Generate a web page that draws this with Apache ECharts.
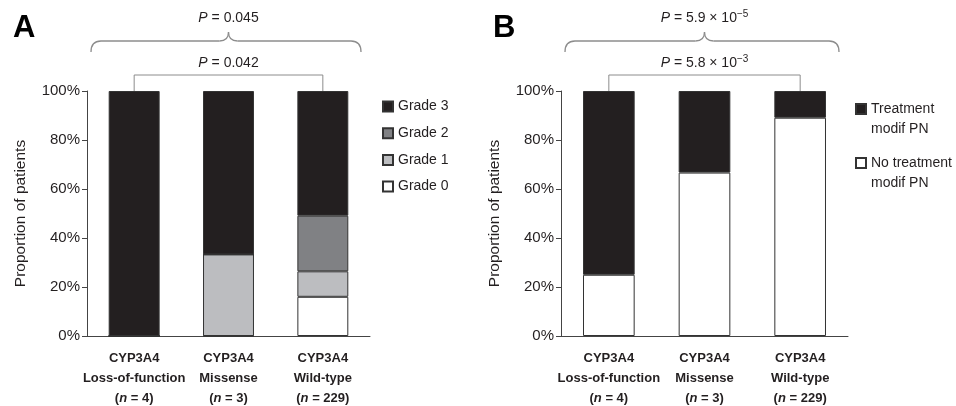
<!DOCTYPE html>
<html>
<head>
<meta charset="utf-8">
<script src="https://cdn.jsdelivr.net/npm/echarts@6/dist/echarts.min.js"></script>
<style>
  html, body { margin: 0; padding: 0; background: #fff; }
  #chart { width: 956px; height: 406px; }
</style>
</head>
<body>
<div id="chart"></div>
<script>
// categories
const groups = ["Loss-of-function", "Missense", "Wild-type"];
const groupN = [4, 3, 229];

// panel A: grade of peripheral neuropathy (%)
const grade0 = [0, 0, 16.0];
const grade1 = [0, 33.3, 10.4];
const grade2 = [0, 0, 22.7];
const grade3 = [100, 66.7, 50.9];

// panel B: treatment modification (%)
const noTreatModif = [25, 66.7, 89.1];
const treatModif = [75, 33.3, 10.9];

// p-values: [mantissa, exponent]
const pInnerA = "0.042";
const pOuterA = "0.045";
const pInnerB = ["5.8", "\u22123"];
const pOuterB = ["5.9", "\u22125"];

const FONT = "Liberation Sans, Arial, Helvetica, sans-serif";
const INK = "#231f20";
const BLACK = "#231f20";
const DARK_GRAY = "#808184";
const LIGHT_GRAY = "#bcbdc0";
const BRACKET = "#8c8c8c";

const grids = [
  { left: 87, top: 91, width: 283, height: 245 },
  { left: 561, top: 91, width: 287, height: 245 },
];

function xAxisFor(i) {
  return {
    type: "category",
    gridIndex: i,
    data: groups,
    axisLine: { lineStyle: { color: "#444", width: 1 } },
    axisTick: { show: false },
    axisLabel: {
      margin: 12,
      interval: 0,
      formatter: (v, idx) =>
        `{b|CYP3A4}\n{b|${v}}\n{b|(}{i|n}{b| = ${groupN[idx]})}`,
      rich: {
        b: { fontFamily: FONT, fontSize: 13, fontWeight: "bold", color: INK, lineHeight: 20 },
        i: { fontFamily: FONT, fontSize: 13, fontWeight: "bold", fontStyle: "italic", color: INK, lineHeight: 20 },
      },
    },
  };
}

function yAxisFor(i) {
  return {
    type: "value",
    gridIndex: i,
    min: 0,
    max: 100,
    interval: 20,
    name: "Proportion of patients",
    nameLocation: "middle",
    nameGap: 58,
    nameTextStyle: { fontFamily: FONT, fontSize: 15.5, color: INK },
    axisLine: { show: true, lineStyle: { color: "#444", width: 1 } },
    axisTick: { show: true, length: 5, lineStyle: { color: "#444" } },
    splitLine: { show: false },
    axisLabel: {
      formatter: "{value}%",
      fontFamily: FONT,
      fontSize: 15,
      color: INK,
      margin: 7,
    },
  };
}

function barSeries(name, data, color, axis, stack) {
  return {
    name,
    type: "bar",
    stack,
    xAxisIndex: axis,
    yAxisIndex: axis,
    data,
    barWidth: "54%",
    itemStyle: { color, borderColor: "#333", borderWidth: 1 },
    emphasis: { disabled: true },
  };
}

const option = {
  animation: false,
  backgroundColor: "#fff",
  title: [
    { text: "A", left: 13, top: 13, padding: 0, textStyle: { fontFamily: FONT, fontSize: 31, fontWeight: "bold", color: "#000" } },
    { text: "B", left: 493, top: 13, padding: 0, textStyle: { fontFamily: FONT, fontSize: 31, fontWeight: "bold", color: "#000" } },
  ],
  grid: grids.map((g) => ({ ...g, outerBoundsMode: "none" })),
  xAxis: [xAxisFor(0), xAxisFor(1)],
  yAxis: [yAxisFor(0), yAxisFor(1)],
  legend: [
    {
      orient: "vertical",
      left: 382,
      top: 98.5,
      padding: 0,
      itemWidth: 10,
      itemHeight: 10,
      itemGap: 10.7,
      icon: "rect",
      selectedMode: false,
      data: ["Grade 3", "Grade 2", "Grade 1", "Grade 0"],
      textStyle: { fontFamily: FONT, fontSize: 14, color: INK, lineHeight: 16 },
    },
    {
      orient: "vertical",
      left: 855,
      top: 79,
      padding: 0,
      itemWidth: 10,
      itemHeight: 10,
      itemGap: -6,
      icon: "rect",
      selectedMode: false,
      data: ["Treatment modif PN", "No treatment modif PN"],
      // leading blank line keeps the square level with the first text line
      formatter: (name) => "\n" + name.replace(" modif", "\nmodif"),
      textStyle: { fontFamily: FONT, fontSize: 14, color: INK, lineHeight: 20 },
    },
  ],
  series: [
    barSeries("Grade 0", grade0, "#ffffff", 0, "a"),
    barSeries("Grade 1", grade1, LIGHT_GRAY, 0, "a"),
    barSeries("Grade 2", grade2, DARK_GRAY, 0, "a"),
    barSeries("Grade 3", grade3, BLACK, 0, "a"),
    barSeries("No treatment modif PN", noTreatModif, "#ffffff", 1, "b"),
    barSeries("Treatment modif PN", treatModif, BLACK, 1, "b"),
  ],
};

const chart = echarts.init(document.getElementById("chart"), null, { renderer: "canvas" });
chart.setOption(option);

// brackets and p-values, placed from the axes' own scales
const pRich = {
  i: { fontFamily: FONT, fontSize: 14, fontStyle: "italic", fill: INK, lineHeight: 18 },
  t: { fontFamily: FONT, fontSize: 14, fill: INK, lineHeight: 18 },
  s: { fontFamily: FONT, fontSize: 10, fill: INK, lineHeight: 18, verticalAlign: "top" },
};

function pText(val) {
  if (Array.isArray(val)) return `{i|P}{t| = ${val[0]} \u00d7 10}{s|${val[1]}}`;
  return `{i|P}{t| = ${val}}`;
}

function bracketGraphics(i, inner, outer) {
  const a = chart.convertToPixel({ xAxisIndex: i, yAxisIndex: i }, [0, 100]);
  const c = chart.convertToPixel({ xAxisIndex: i, yAxisIndex: i }, [2, 100]);
  const top = a[1];
  const yb = top - 16;
  const x0 = grids[i].left + 4;
  const x1 = grids[i].left + grids[i].width - 9;
  const xc = (a[0] + c[0]) / 2;
  const yEnd = top - 39, yFlat = top - 50, yPeak = top - 59;
  const ls = { stroke: BRACKET, lineWidth: 1.3, fill: null };
  return [
    { type: "polyline", shape: { points: [[a[0], top], [a[0], yb], [c[0], yb], [c[0], top]] }, style: { stroke: BRACKET, lineWidth: 1, fill: null } },
    { type: "text", x: xc, y: yb - 12, style: { text: pText(inner), rich: pRich, align: "center", verticalAlign: "middle" } },
    { type: "bezierCurve", shape: { x1: x0, y1: yEnd, cpx1: x0, cpy1: yFlat, x2: x0 + 10, y2: yFlat }, style: ls },
    { type: "line", shape: { x1: x0 + 10, y1: yFlat, x2: xc - 9, y2: yFlat }, style: ls },
    { type: "bezierCurve", shape: { x1: xc - 9, y1: yFlat, cpx1: xc, cpy1: yFlat, x2: xc, y2: yPeak }, style: ls },
    { type: "bezierCurve", shape: { x1: xc, y1: yPeak, cpx1: xc, cpy1: yFlat, x2: xc + 9, y2: yFlat }, style: ls },
    { type: "line", shape: { x1: xc + 9, y1: yFlat, x2: x1 - 10, y2: yFlat }, style: ls },
    { type: "bezierCurve", shape: { x1: x1 - 10, y1: yFlat, cpx1: x1, cpy1: yFlat, x2: x1, y2: yEnd }, style: ls },
    { type: "text", x: xc, y: yPeak - 14, style: { text: pText(outer), rich: pRich, align: "center", verticalAlign: "middle" } },
  ];
}

chart.setOption({
  graphic: [...bracketGraphics(0, pInnerA, pOuterA), ...bracketGraphics(1, pInnerB, pOuterB)],
});
</script>
</body>
</html>
